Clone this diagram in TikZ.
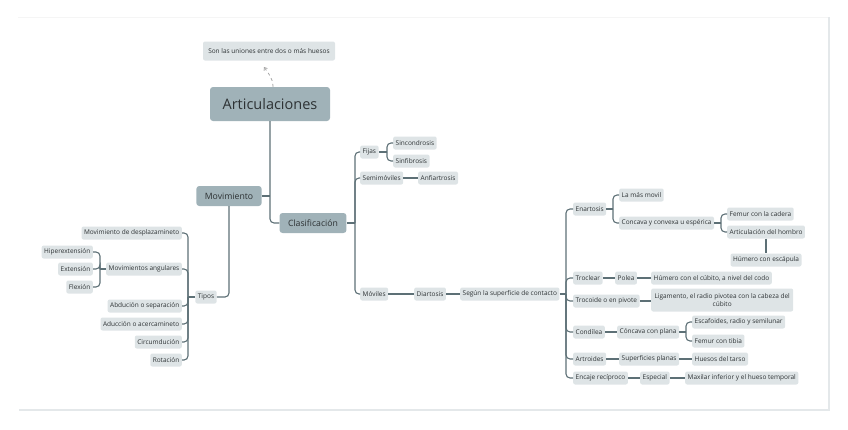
\documentclass[tikz,border=0pt]{standalone}
\usepackage{fontspec}
\setmainfont{Open Sans}
\usepackage{tikz}
\usetikzlibrary{arrows.meta, positioning}

\definecolor{topicfill}{RGB}{160,178,184}
\definecolor{subfill}{RGB}{222,228,230}
\definecolor{linecol}{RGB}{93,112,118}
\definecolor{txtcol}{RGB}{45,50,52}
\definecolor{framecol}{RGB}{228,232,234}

\begin{document}
\begin{tikzpicture}[
    x=1pt, y=-1pt,
    topic/.style={rectangle, rounded corners=3pt, fill=topicfill, text=txtcol, minimum width=120pt, minimum height=34pt, font=\fontsize{14.5}{16}\selectfont},
    mainbox/.style={rectangle, rounded corners=3pt, fill=topicfill, text=txtcol, minimum height=20pt, inner xsep=8.5pt, font=\fontsize{8.7}{10}\selectfont},
    sub/.style={rectangle, rounded corners=2pt, fill=subfill, text=txtcol, minimum height=13pt, inner xsep=2.5pt, inner ysep=1pt, font=\fontsize{6.5}{8}\selectfont},
    link/.style={draw=linecol, line width=1.1pt, rounded corners=4pt},
    note/.style={draw=gray!70, line width=0.8pt, dashed, -{Straight Barb[length=2.5pt, width=4pt]}}
]
    \useasboundingbox (0,0) rectangle (848,429);
    % Frame
    \draw[gray!8, line width=0.8pt] (18,17) -- (829,17);
    \draw[framecol, line width=1.5pt] (829,17) -- (829,410) -- (19,410);

    % Central topic
    \node[topic] (artic) at (270,104) {Articulaciones};
    \node[sub, minimum width=132pt, minimum height=19pt] (nota) at (269,51) {Son las uniones entre dos o más huesos};
    \coordinate (notaend) at (264,67);

    % Main branches
    \node[mainbox] (movim) at (229,196) {Movimiento};
    \node[mainbox] (clasif) at (313,223) {Clasificación};

    % Movimiento
    \node[sub] (tipos) at (206,297) {Tipos};
    \node[sub, anchor=east] (desplaz) at (182,233) {Movimiento de desplazamineto};
    \node[sub, anchor=east] (angul) at (182,269) {Movimientos angulares};
    \node[sub, anchor=east] (abduc) at (182,306) {Abdución o separación};
    \node[sub, anchor=east] (aduc) at (182,324) {Aducción o acercamineto};
    \node[sub, anchor=east] (circ) at (182,342) {Circumdución};
    \node[sub, anchor=east] (rota) at (182,360) {Rotación};
    \node[sub, anchor=east] (hiper) at (93,252) {Hiperextensión};
    \node[sub, anchor=east] (exten) at (93,269) {Extensión};
    \node[sub, anchor=east] (flex) at (93,287) {Flexión};

    % Clasificacion
    \node[sub, anchor=west] (fijas) at (360,152) {Fijas};
    \node[sub, anchor=west] (semi) at (360,178) {Semimóviles};
    \node[sub, anchor=west] (moviles) at (360,294) {Móviles};
    \node[sub, anchor=west] (sincon) at (393,143) {Sincondrosis};
    \node[sub, anchor=west] (sinfib) at (393,161) {Sinfibrosis};
    \node[sub, anchor=west] (anfiar) at (418,178) {Anfiartrosis};
    \node[sub, anchor=west] (diart) at (414,294) {Diartosis};
    \node[sub, anchor=west] (segun) at (460,294) {Según la superficie de contacto};

    % Segun la superficie
    \node[sub, anchor=west] (enart) at (573,209) {Enartosis};
    \node[sub, anchor=west] (trocl) at (573,278) {Troclear};
    \node[sub, anchor=west] (trocoide) at (573,301) {Trocoide o en pivote};
    \node[sub, anchor=west] (condil) at (573,332) {Condílea};
    \node[sub, anchor=west] (artro) at (573,359) {Artroides};
    \node[sub, anchor=west] (encaje) at (573,378) {Encaje recíproco};

    \node[sub, anchor=west] (masmovil) at (619,195) {La más movil};
    \node[sub, anchor=west] (concava) at (619,223) {Concava y convexa u espérica};
    \node[sub, anchor=west] (femcad) at (727,214) {Femur con la cadera};
    \node[sub, anchor=west] (hombro) at (727,232) {Articulación del hombro};
    \node[sub] (humesc) at (766,260) {Húmero con escápula};
    \node[sub, anchor=west] (polea) at (615,278) {Polea};
    \node[sub, anchor=west] (humcub) at (651,278) {Húmero con el cúbito, a nivel del codo};
    \node[sub, anchor=west, align=center, minimum width=142pt, minimum height=23pt] (ligam) at (651,300) {Ligamento, el radio pivotea con la cabeza del\\cúbito};
    \node[sub, anchor=west] (concpl) at (617,332) {Cóncava con plana};
    \node[sub, anchor=west] (escaf) at (692,322) {Escafoides, radio y semilunar};
    \node[sub, anchor=west] (femtib) at (692,341) {Femur con tibia};
    \node[sub, anchor=west] (supl) at (619,359) {Superficies planas};
    \node[sub, anchor=west] (tarso) at (692,359) {Huesos del tarso};
    \node[sub, anchor=west] (espec) at (640,378) {Especial};
    \node[sub, anchor=west] (maxil) at (685,378) {Maxilar inferior y el hueso temporal};

    % Bracket points
    \coordinate (ktipos) at (188,297);
    \coordinate (kang) at (100,269);
    \coordinate (kclas) at (355,223);
    \coordinate (kfijas) at (387,152);
    \coordinate (ksegun) at (566,294);
    \coordinate (kenart) at (613,209);
    \coordinate (kconc) at (721,223);
    \coordinate (kconpl) at (686,332);

    % Connectors
    \draw[note] ([xshift=3pt]artic.north) .. controls +(0,-9) and +(4,6) .. (notaend);
    \draw[link] (artic.south) |- (clasif.west);
    \draw[link] (movim.east) -- (artic.south |- movim.east);
    \draw[link] (movim.south) |- (tipos.east);

    \draw[link] (tipos.west) -- (ktipos);
    \foreach \c in {desplaz,angul,abduc,aduc,circ,rota}
        \draw[link] (ktipos) |- (\c.east);
    \draw[link] (angul.west) -- (kang);
    \foreach \c in {hiper,exten,flex}
        \draw[link] (kang) |- (\c.east);

    \draw[link] (clasif.east) -- (kclas);
    \foreach \c in {fijas,semi,moviles}
        \draw[link] (kclas) |- (\c.west);
    \draw[link] (fijas.east) -- (kfijas);
    \foreach \c in {sincon,sinfib}
        \draw[link] (kfijas) |- (\c.west);
    \draw[link] (semi) -- (anfiar);
    \draw[link] (moviles) -- (diart);
    \draw[link] (diart) -- (segun);

    \draw[link] (segun.east) -- (ksegun);
    \foreach \c in {enart,trocl,trocoide,condil,artro,encaje}
        \draw[link] (ksegun) |- (\c.west);
    \draw[link] (enart.east) -- (kenart);
    \foreach \c in {masmovil,concava}
        \draw[link] (kenart) |- (\c.west);
    \draw[link] (concava.east) -- (kconc);
    \foreach \c in {femcad,hombro}
        \draw[link] (kconc) |- (\c.west);
    \draw[link] (hombro.south -| humesc.north) -- (humesc.north);

    \draw[link] (trocl) -- (polea);
    \draw[link] (polea) -- (humcub);
    \draw[link] (trocoide.east) -- (trocoide.east -| ligam.west);
    \draw[link] (condil) -- (concpl);
    \draw[link] (concpl.east) -- (kconpl);
    \foreach \c in {escaf,femtib}
        \draw[link] (kconpl) |- (\c.west);
    \draw[link] (artro) -- (supl);
    \draw[link] (supl) -- (tarso);
    \draw[link] (encaje) -- (espec);
    \draw[link] (espec) -- (maxil);
\end{tikzpicture}
\end{document}
